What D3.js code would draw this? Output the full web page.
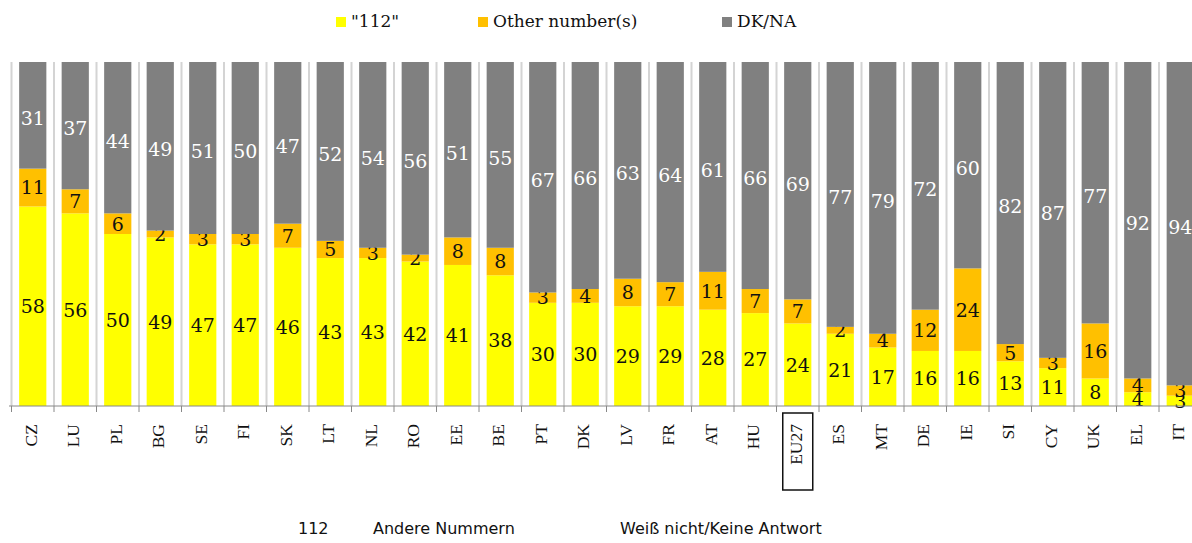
<!DOCTYPE html>
<head>
  <meta charset="utf-8">
  <script src="https://d3js.org/d3.v7.min.js"></script>
  <style>
  body,html {margin:0; background:#fff;}
  svg {display:block;}
  .val {font-family:"DejaVu Serif", Georgia, serif; font-size:19px;}
  .cat {font-family:"Liberation Serif", "Times New Roman", serif; font-size:17.5px;}
  .leg {font-family:"DejaVu Serif", Georgia, serif; font-size:17px;}
  .de {font-family:"DejaVu Sans", Verdana, sans-serif; font-size:16px;}
</style>
</head>

<body>
  <script>

    // data
    const countries = ["CZ","LU","PL","BG","SE","FI","SK","LT","NL","RO","EE","BE","PT","DK",
      "LV","FR","AT","HU","EU27","ES","MT","DE","IE","SI","CY","UK","EL","IT"];
    const num112 = [58,56,50,49,47,47,46,43,43,42,41,38,30,30,29,29,28,27,24,21,17,16,16,13,11,8,4,3];
    const otherNum = [11,7,6,2,3,3,7,5,3,2,8,8,3,4,8,7,11,7,7,2,4,12,24,5,3,16,4,3];
    const dkna = [31,37,44,49,51,50,47,52,54,56,51,55,67,66,63,64,61,66,69,77,79,72,60,82,87,77,92,94];

    const seriesNames = ["\"112\"", "Other number(s)", "DK/NA"];
    const germanNames = ["112", "Andere Nummern", "Weiß nicht/Keine Antwort"];
    const colors = ["#ffff00", "#ffc000", "#808080"];

    const width = 1192, height = 543;

    const rows = countries.map((c, i) => ({c: c, a: num112[i], b: otherNum[i], d: dkna[i]}));
    const stack = d3.stack().keys(["a","b","d"])(rows);

    const x = d3.scaleBand().domain(countries)
      .range([11.5, 11.5 + 42.5 * countries.length])
      .paddingInner(0.36).paddingOuter(0.18);
    const y = d3.scaleLinear().domain([0, 100]).range([406, 62]).clamp(true);
    const sep = d => x(d) - x.step() * x.paddingInner() / 2;

    const svg = d3.select("body").append("svg")
      .attr("width", width)
      .attr("height", height);

    // light vertical separators
    svg.append("g")
      .selectAll("line")
      .data(countries)
      .enter()
      .append("line")
      .attr("x1", sep)
      .attr("x2", sep)
      .attr("y1", y(100))
      .attr("y2", y(0))
      .attr("stroke", "#d4d4d4")
      .attr("stroke-width", 2);

    // bars
    const layers = svg.selectAll(".layer")
      .data(stack)
      .enter()
      .append("g")
      .attr("fill", (d, i) => colors[i]);

    layers.selectAll("rect")
      .data(d => d)
      .enter()
      .append("rect")
      .attr("x", d => x(d.data.c))
      .attr("width", x.bandwidth())
      .attr("y", d => y(d[1]))
      .attr("height", d => y(d[0]) - y(d[1]));

    // axis along the bottom
    const axis = d3.axisBottom(x).tickSize(0).tickFormat("");
    const ax = svg.append("g").attr("transform", "translate(0," + y(0) + ")").call(axis);
    ax.select(".domain").attr("stroke", "#888").attr("d", "M9,0H" + width);
    ax.selectAll(".tick").remove();
    ax.selectAll(".tk")
      .data(countries)
      .enter()
      .append("line")
      .attr("x1", sep)
      .attr("x2", sep)
      .attr("y1", 0)
      .attr("y2", 6)
      .attr("stroke", "#888");

    // value labels
    layers.selectAll("text")
      .data((d, i) => d.map(p => ({p: p, k: i})))
      .enter()
      .append("text")
      .attr("class", "val")
      .attr("x", d => x(d.p.data.c) + x.bandwidth() / 2)
      .attr("y", d => (y(d.p[0]) + y(d.p[1])) / 2 + (d.k == 2 ? 3 : 0))
      .attr("dy", "0.36em")
      .attr("text-anchor", "middle")
      .attr("fill", d => d.k == 2 ? "#fff" : "#111")
      .text(d => d.p[1] - d.p[0] > 0 ? (d.k == 0 ? d.p.data.a : d.k == 1 ? d.p.data.b : d.p.data.d) : "");

    // category labels, rotated
    svg.append("g")
      .selectAll("text")
      .data(countries)
      .enter()
      .append("text")
      .attr("class", "cat")
      .attr("transform", d => "translate(" + (x(d) + x.bandwidth() / 2 + 4) + ",424) rotate(-90)")
      .attr("text-anchor", "end")
      .attr("fill", "#111")
      .text(d => d);

    // box round EU27
    const eu = x("EU27") + x.bandwidth() / 2;
    svg.append("rect")
      .attr("x", eu - 15)
      .attr("y", 413)
      .attr("width", 30)
      .attr("height", 77)
      .attr("fill", "none")
      .attr("stroke", "#111")
      .attr("stroke-width", 1.5);

    // legend
    const legX = [336, 478, 722];
    const leg = svg.append("g");
    seriesNames.forEach((n, i) => {
      leg.append("rect").attr("x", legX[i]).attr("y", 17).attr("width", 10).attr("height", 10).attr("fill", colors[i]);
      leg.append("text").attr("class", "leg").attr("x", legX[i] + 15).attr("y", 27).attr("fill", "#111").text(n);
    });

    // german legend line
    const deX = [298, 373, 620];
    germanNames.forEach((n, i) => {
      svg.append("text").attr("class", "de").attr("x", deX[i]).attr("y", 534).attr("fill", "#111").text(n);
    });

  </script>
</body>
